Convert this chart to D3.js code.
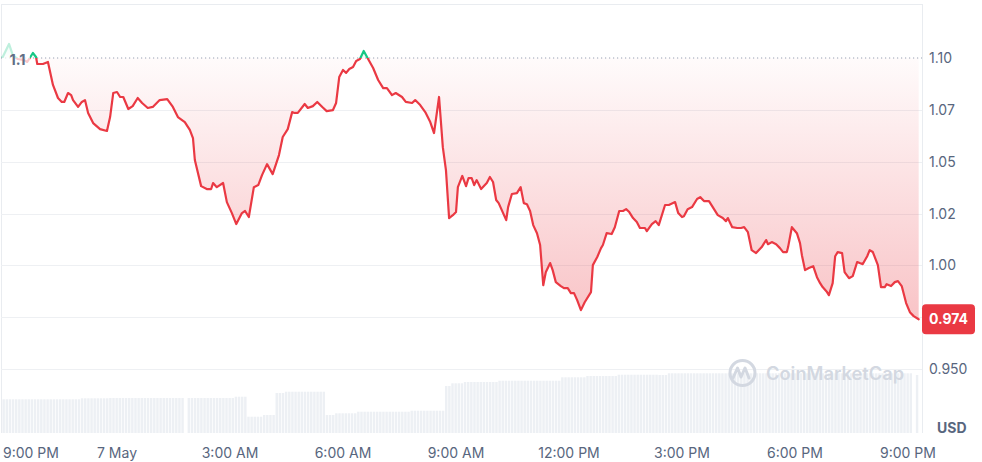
<!DOCTYPE html>
<html><head><meta charset="utf-8">
<script src="https://cdn.jsdelivr.net/npm/d3@7/dist/d3.min.js"></script>
<style>
html,body{margin:0;padding:0;background:#fff;}
svg{display:block;font-family:Inter,"Noto Sans",sans-serif;}
</style></head><body>
<svg id="chart" width="982" height="462"></svg>
<script>
// minutes after 6 May 21:00
const minutes = [-2,8,14,22,32,37,41,46,51,53,
62,70,78,86,92,96,102,107,110,118,
124,129,134,142,153,164,169,174,180,185,
190,198,205,213,220,229,237,248,260,269,
277,288,296,301,304,314,323,330,333,339,
349,355,363,370,379,384,390,398,405,411,
419,428,438,444,452,459,463,468,479,484,
492,499,507,514,524,529,534,540,545,550,
556,561,567,573,580,588,596,604,610,618,
624,634,640,650,655,663,671,679,685,693,
699,704,709,715,720,723,730,736,740,745,
749,753,760,769,774,779,784,788,800,803,
809,817,823,828,833,838,843,849,854,859,
863,870,874,879,887,892,898,903,908,913,
919,925,935,938,945,951,954,960,968,973,
980,986,991,996,1002,1008,1013,1021,1024,1032,
1038,1043,1053,1059,1069,1074,1080,1083,1089,1096,
1104,1109,1115,1123,1129,1137,1145,1150,1153,1160,
1168,1174,1179,1185,1191,1198,1207,1214,1217,1223,
1230,1236,1241,1247,1249,1255,1263,1268,1271,1276,
1282,1289,1295,1300,1304,1311,1314,1320,1324,1328,
1335,1339,1346,1352,1359,1363,1368,1375,1379,1384,
1392,1397,1403,1406,1413,1419,1424,1430,1437,1443,
1449,1457];
const prices = [1.1005,1.1068,1.1014,1.0995,1.0990,1.0981,1.1000,1.1024,1.1005,1.0971,
1.0971,1.0981,1.0870,1.0807,1.0788,1.0788,1.0831,1.0821,1.0797,1.0764,
1.0788,1.0797,1.0735,1.0686,1.0657,1.0648,1.0715,1.0831,1.0836,1.0812,
1.0812,1.0754,1.0768,1.0807,1.0783,1.0759,1.0764,1.0797,1.0802,1.0764,
1.0715,1.0691,1.0653,1.0614,1.0508,1.0382,1.0368,1.0368,1.0397,1.0377,
1.0397,1.0305,1.0252,1.0199,1.0252,1.0262,1.0233,1.0377,1.0387,1.0435,
1.0488,1.0440,1.0532,1.0619,1.0657,1.0739,1.0735,1.0735,1.0778,1.0759,
1.0768,1.0788,1.0764,1.0744,1.0749,1.0783,1.0908,1.0942,1.0928,1.0947,
1.0957,1.0986,1.0995,1.1034,1.0995,1.0952,1.0894,1.0855,1.0855,1.0821,
1.0831,1.0812,1.0788,1.0783,1.0797,1.0773,1.0739,1.0691,1.0638,1.0812,
1.0570,1.0459,1.0228,1.0242,1.0257,1.0377,1.0431,1.0382,1.0421,1.0421,
1.0387,1.0411,1.0368,1.0397,1.0426,1.0402,1.0315,1.0300,1.0218,1.0281,
1.0344,1.0348,1.0377,1.0300,1.0295,1.0262,1.0194,1.0155,1.0098,0.9904,
0.9967,1.0011,0.9977,0.9919,0.9900,0.9890,0.9890,0.9866,0.9866,0.9832,
0.9784,0.9822,0.9871,1.0001,1.0040,1.0083,1.0098,1.0155,1.0151,1.0184,
1.0262,1.0262,1.0271,1.0257,1.0228,1.0209,1.0180,1.0180,1.0165,1.0199,
1.0213,1.0194,1.0291,1.0291,1.0305,1.0252,1.0233,1.0237,1.0271,1.0281,
1.0320,1.0329,1.0310,1.0310,1.0281,1.0242,1.0228,1.0213,1.0228,1.0184,
1.0180,1.0180,1.0184,1.0160,1.0073,1.0059,1.0088,1.0122,1.0102,1.0112,
1.0102,1.0083,1.0064,1.0064,1.0088,1.0184,1.0155,1.0107,1.0049,0.9977,
0.9987,0.9996,0.9943,0.9914,0.9895,0.9871,0.9856,0.9914,1.0044,1.0064,
1.0059,0.9967,0.9938,0.9948,1.0016,1.0011,1.0006,1.0044,1.0073,1.0064,
1.0001,0.9895,0.9895,0.9909,0.9900,0.9919,0.9924,0.9900,0.9818,0.9774,
0.9755,0.9740];
// 24h volume (relative units), one value per 5-minute bar
const volumes = [
33.7,33.7,33.7,33.7,33.7,33.7,33.7,33.7,33.7,33.7,
33.7,33.7,33.7,33.7,33.7,33.7,33.7,33.7,33.7,33.7,
33.7,33.7,33.7,33.7,33.7,34.7,34.7,34.7,34.7,34.7,
34.7,34.7,34.7,34.7,35,35,35,35,35,35,
35,35,35,35,35,35,35,35,35,35,
35,35,35,35,35,35,35,35,0,35,
35,35,35,35,35,35,35,35,35,35,
35,35,35,35,36.3,36.3,36.3,36.3,16.3,16.3,
16.3,16.3,16.3,18,18,18,18,40,40,40,
41.3,41.3,41.3,41.3,41.3,41.3,41.3,41.3,41.3,41.3,
41.3,41.3,41.3,18,18,18,19.7,19.7,19.7,19.7,
19.7,19.7,19.7,21.3,21.3,21.3,21.3,21.3,21.3,21.3,
21.3,21.3,21.3,21.3,21.3,21.3,21.3,21.3,21.3,21.3,
22.3,22.3,22.3,22.3,22.3,22.3,22.3,22.3,22.3,22.3,
22.3,47,47,49.7,49.7,49.7,49.7,51,51,51,
51,51,51,51,51,51,51,51,52.3,52.3,
52.3,52.3,52.3,52.3,52.3,52.3,52.3,52.3,52.3,52.3,
52.3,52.3,52.3,52.3,52.3,52.3,52.3,52.3,55.7,55.7,
55.7,55.7,55.7,55.7,55.7,55.7,57,57,57,57,
57,57,57,57,57,57,58.3,58.3,58.3,58.3,
58.3,58.3,58.3,58.3,58.3,58.3,58.3,58.3,58.3,58,
58,58,59.7,59.7,59.7,59.7,59.7,59.7,59.7,59.7,
59.7,59.7,59.7,59.7,59.7,59.7,59.7,59.7,59.7,59.7,
59.7,59.7,59.7,59.7,59.7,59.7,59.7,59.7,59.7,59.7,
59.7,59.7,59.7,59.7,59.7,59.7,59.7,59.7,59.7,59.7,
59.7,59.7,59.7,59.7,59.7,59.7,59.7,59.7,59.7,59.7,
59.7,59.7,59.7,59.7,59.7,59.7,59.7,59.7,59.7,59.7,
59.7,59.7,59.7,59.7,59.7,59.7,59.7,59.7,59.7,59.7,
59.7,59.7,59.7,59.7,59.7,59.7,59.7,59.7,59.7,59.7,
0,58];
const volStepMin = 5;
const openPrice = 1.1;
const lastPrice = 0.974;
const yTicks = [0.95, 0.975, 1.0, 1.025, 1.05, 1.075, 1.10];
// the 0.975 tick label is covered by the last-price tag in the reference
const yTickLabels = ["0.950", null, "1.00", "1.02", "1.05", "1.07", "1.10"];
const xTicks = [0, 180, 360, 540, 720, 900, 1080, 1260, 1440];
const xTickLabels = ["9:00 PM", "7 May", "3:00 AM", "6:00 AM", "9:00 AM", "12:00 PM", "3:00 PM", "6:00 PM", "9:00 PM"];

const RED = "#ea3943", GREEN = "#16c784", TXT = "#58667e", GRID = "#eef0f3";
const L = 1, R = 922, T = 4, B = 433;

const svg = d3.select("#chart");
const x = d3.scaleLinear().domain([0, 1440]).range([4, 908]);
const y = d3.scaleLinear().domain([0.95, 1.10]).range([369, 58]);
const yv = d3.scaleLinear().domain([0, 100]).range([B, B - 100]);

const data = minutes.map((m, i) => ({m, p: prices[i]}));

// borders
svg.append("line").attr("x1", L).attr("x2", R).attr("y1", T + 0.5).attr("y2", T + 0.5).attr("stroke", "#e9ecf0");
svg.append("line").attr("x1", L + 0.5).attr("x2", L + 0.5).attr("y1", T).attr("y2", B).attr("stroke", "#e9ecf0");
svg.append("line").attr("x1", R + 0.5).attr("x2", R + 0.5).attr("y1", T).attr("y2", B).attr("stroke", "#e9ecf0");

// volume bars
const bw = x(volStepMin) - x(0);
svg.append("g").selectAll("rect").data(volumes).join("rect")
  .attr("x", (d, i) => x(i * volStepMin) - bw / 2)
  .attr("width", bw - 0.7)
  .attr("y", d => yv(d))
  .attr("height", d => B - yv(d))
  .attr("fill", "#edf0f4");

// grid lines
svg.append("g").selectAll("line").data(yTicks.filter(t => t !== openPrice)).join("line")
  .attr("x1", L).attr("x2", R)
  .attr("y1", d => Math.round(y(d)) + 0.5).attr("y2", d => Math.round(y(d)) + 0.5)
  .attr("stroke", GRID).attr("stroke-width", 1);

// gradients
const defs = svg.append("defs");
const pMax = d3.max(prices), pMin = d3.min(prices);
const yTop = y(pMax), yBot = y(pMin), yBase = y(openPrice);
const off = (yBase - yTop) / (yBot - yTop);
const fg = defs.append("linearGradient").attr("id", "fillG")
  .attr("gradientUnits", "userSpaceOnUse").attr("x1", 0).attr("x2", 0).attr("y1", yTop).attr("y2", yBot);
fg.append("stop").attr("offset", 0).attr("stop-color", GREEN).attr("stop-opacity", 0.25);
fg.append("stop").attr("offset", off).attr("stop-color", GREEN).attr("stop-opacity", 0.03);
fg.append("stop").attr("offset", off).attr("stop-color", RED).attr("stop-opacity", 0.02);
fg.append("stop").attr("offset", 1).attr("stop-color", RED).attr("stop-opacity", 0.3);
const lg = defs.append("linearGradient").attr("id", "lineG")
  .attr("gradientUnits", "userSpaceOnUse").attr("x1", 0).attr("x2", 0).attr("y1", yTop).attr("y2", yBot);
lg.append("stop").attr("offset", 0).attr("stop-color", GREEN);
lg.append("stop").attr("offset", off).attr("stop-color", GREEN);
lg.append("stop").attr("offset", off).attr("stop-color", RED);
lg.append("stop").attr("offset", 1).attr("stop-color", RED);

// area between line and baseline
svg.append("path").datum(data)
  .attr("d", d3.area().x(d => x(d.m)).y0(yBase).y1(d => y(d.p)))
  .attr("fill", "url(#fillG)");

// baseline dotted
svg.append("line").attr("x1", L).attr("x2", R).attr("y1", yBase).attr("y2", yBase)
  .attr("stroke", "#98a1b3").attr("stroke-width", 1).attr("stroke-dasharray", "1.2,2.8");

// price line
svg.append("path").datum(data)
  .attr("d", d3.line().x(d => x(d.m)).y(d => y(d.p)))
  .attr("fill", "none").attr("stroke", "url(#lineG)").attr("stroke-width", 2.2)
  .attr("stroke-linejoin", "round").attr("stroke-linecap", "round");

// open price label at left
svg.append("rect").attr("x", L + 1).attr("y", 40).attr("width", 28).attr("height", 34)
  .attr("fill", "#fff").attr("fill-opacity", 0.72);
svg.append("text").attr("x", 9.5).attr("y", yBase + 6.5).text(String(openPrice))
  .attr("fill", "#616e85").attr("font-size", 14.5).attr("font-weight", 700);

// watermark
const wm = svg.append("g");
wm.append("circle").attr("cx", 742.5).attr("cy", 373).attr("r", 12.5)
  .attr("fill", "none").attr("stroke", "#d3d8e1").attr("stroke-width", 3);
wm.append("path").attr("d", "M733,378 L737.5,368 L741,377 L745,368 L749,378")
  .attr("fill", "none").attr("stroke", "#d3d8e1").attr("stroke-width", 3)
  .attr("stroke-linejoin", "round").attr("stroke-linecap", "round");
wm.append("text").attr("x", 766).attr("y", 380).text("CoinMarketCap")
  .attr("fill", "#d3d8e1").attr("font-size", 18.3).attr("font-weight", 600);

// y axis labels
svg.append("g").selectAll("text")
  .data(yTicks.map((t, i) => ({t, label: yTickLabels[i]})).filter(d => d.label))
  .join("text")
  .attr("x", 929).attr("y", d => y(d.t)).attr("dy", "0.36em")
  .text(d => d.label)
  .attr("fill", TXT).attr("font-size", 14);
svg.append("text").attr("x", 937).attr("y", 433).text("USD")
  .attr("fill", TXT).attr("font-size", 14).attr("font-weight", 700);

// x axis labels
svg.append("g").selectAll("text").data(xTicks).join("text")
  .attr("x", (d, i) => i === 0 ? 3 : x(d))
  .attr("text-anchor", (d, i) => i === 0 ? "start" : "middle")
  .attr("y", 457.5)
  .text((d, i) => xTickLabels[i])
  .attr("fill", TXT).attr("font-size", 14);

// last price tag
const yl = y(lastPrice);
svg.append("rect").attr("x", 922).attr("y", yl - 15).attr("width", 53).attr("height", 30)
  .attr("rx", 4).attr("fill", RED);
svg.append("text").attr("x", 948.5).attr("y", yl).attr("dy", "0.36em").attr("text-anchor", "middle")
  .text(lastPrice.toFixed(3)).attr("fill", "#fff").attr("font-size", 14).attr("font-weight", 700);
</script>
</body></html>
